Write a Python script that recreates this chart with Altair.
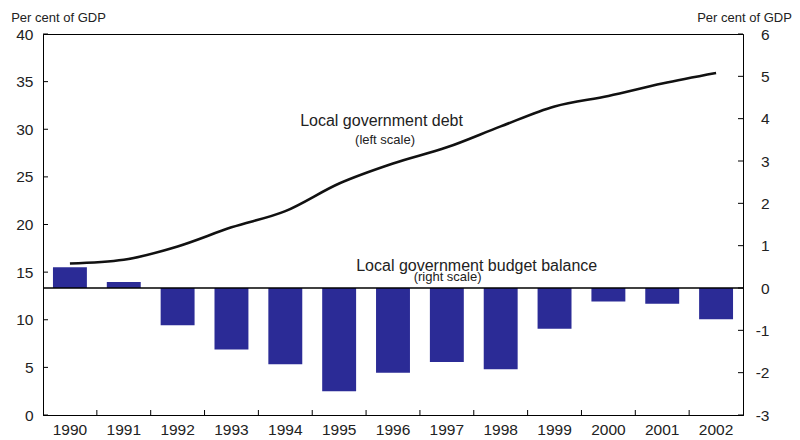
import altair as alt
import pandas as pd

# ---- data ----
years = [str(y) for y in range(1990, 2003)]
debt = [15.9, 16.3, 17.7, 19.7, 21.4, 24.3, 26.4, 28.1, 30.3, 32.4, 33.5, 34.8, 35.9]
balance = [0.49, 0.14, -0.88, -1.45, -1.80, -2.44, -2.00, -1.75, -1.92, -0.96, -0.32, -0.37, -0.74]
left_ticks = [0, 5, 10, 15, 20, 25, 30, 35, 40]
right_ticks = [-3, -2, -1, 0, 1, 2, 3, 4, 5, 6]

left_notes = ["Local government debt", "(left scale)"]
left_note_year = ["1996", "1996"]
left_note_val = [30.3, 28.45]
left_note_size = [16, 13]
left_note_dx = [5.5, 9]

right_notes = ["Local government budget balance", "(right scale)"]
right_note_year = ["1998", "1997"]
right_note_val = [0.41, 0.17]
right_note_size = [16, 13]
right_note_dx = [-7, 17.7]

df = pd.DataFrame({"year": years, "debt": debt, "balance": balance})
lt = pd.DataFrame({"v": left_ticks})
rt = pd.DataFrame({"v": right_ticks})
xt = pd.DataFrame({"year": years[1:]})
ln = pd.DataFrame({"text": left_notes, "year": left_note_year, "v": left_note_val,
                   "size": left_note_size, "dx": left_note_dx})
rn = pd.DataFrame({"text": right_notes, "year": right_note_year, "v": right_note_val,
                   "size": right_note_size, "dx": right_note_dx})

W, H = 700, 381
FONT = "Liberation Sans"

xscale = alt.Scale(type="band", domain=years, paddingInner=0.37, paddingOuter=0.185)
xaxis = alt.Axis(title=None, labelAngle=0, ticks=False, tickSize=0, labelPadding=7,
                 labelFontSize=15.5, domain=True)

lscale = alt.Scale(domain=[0, 40], nice=False, zero=False)
laxis = alt.Axis(orient="left", values=left_ticks, ticks=False, tickSize=0, labelPadding=10,
                 labelFontSize=15.5, title="Per cent of GDP", titleAngle=0, titleX=15,
                 titleY=-13, titleAlign="center", titleBaseline="alphabetic",
                 titleFontSize=13, titleFontWeight="normal", titleFont=FONT, titleColor="#222")
rscale = alt.Scale(domain=[-3, 6], nice=False, zero=False)
raxis = alt.Axis(orient="right", values=right_ticks, ticks=False, tickSize=0, labelPadding=26,
                 labelAlign="right", labelFontSize=15.5,
                 labelExpr="datum.value < 0 ? '-' + abs(datum.value) : '' + datum.value",
                 title="Per cent of GDP", titleAngle=0,
                 titleX=1, titleY=-13, titleAlign="center", titleBaseline="alphabetic",
                 titleFontSize=13, titleFontWeight="normal", titleFont=FONT, titleColor="#222")

X = alt.X("year:O", scale=xscale, axis=xaxis)

# ---- left-scale group ----
line = alt.Chart(df).mark_line(color="#111", strokeWidth=2.6, interpolate="monotone").encode(
    x=X, y=alt.Y("debt:Q", scale=lscale, axis=laxis))
lticks = alt.Chart(lt).mark_rule(color="black", strokeWidth=1).encode(
    y=alt.Y("v:Q", scale=lscale, axis=laxis), x=alt.value(0), x2=alt.value(5))
lnotes = alt.Chart(ln).mark_text(font=FONT, color="#222", baseline="alphabetic", align="center").encode(
    x=X, y=alt.Y("v:Q", scale=lscale, axis=laxis), text="text:N",
    size=alt.Size("size:Q", scale=None, legend=None), xOffset=alt.XOffset("dx:Q", scale=None))
left_group = alt.layer(line, lticks, lnotes)

# ---- right-scale group ----
bars = alt.Chart(df).mark_bar(color="#2b2b96").encode(
    x=X, y=alt.Y("balance:Q", scale=rscale, axis=raxis))
zero = alt.Chart(pd.DataFrame({"v": [0]})).mark_rule(color="black", strokeWidth=1.5).encode(
    y=alt.Y("v:Q", scale=rscale, axis=raxis), x=alt.value(0), x2=alt.value(W))
rticks = alt.Chart(rt).mark_rule(color="black", strokeWidth=1).encode(
    y=alt.Y("v:Q", scale=rscale, axis=raxis), x=alt.value(W - 5), x2=alt.value(W))
rnotes = alt.Chart(rn).mark_text(font=FONT, color="#222", baseline="alphabetic", align="center").encode(
    x=X, y=alt.Y("v:Q", scale=rscale, axis=raxis), text="text:N",
    size=alt.Size("size:Q", scale=None, legend=None), xOffset=alt.XOffset("dx:Q", scale=None))
right_group = alt.layer(bars, zero, rticks, rnotes)

# ---- x ticks (inward, between categories) ----
xticks = alt.Chart(xt).mark_rule(color="black", strokeWidth=1, xOffset=-W / 26).encode(
    x=X, y=alt.value(H - 5), y2=alt.value(H))

chart = alt.layer(right_group, left_group, xticks).resolve_scale(y="independent").properties(
    width=W, height=H,
    autosize=alt.AutoSizeParams(type="none"),
    padding={"left": 35, "top": 26, "right": 49, "bottom": 24},
).configure_view(stroke="black", strokeWidth=1).configure_axis(
    domainColor="black", domainWidth=1, labelFont=FONT, labelColor="#222", grid=False
)

chart.save("out.html", embed_options={"renderer": "svg", "actions": False})
